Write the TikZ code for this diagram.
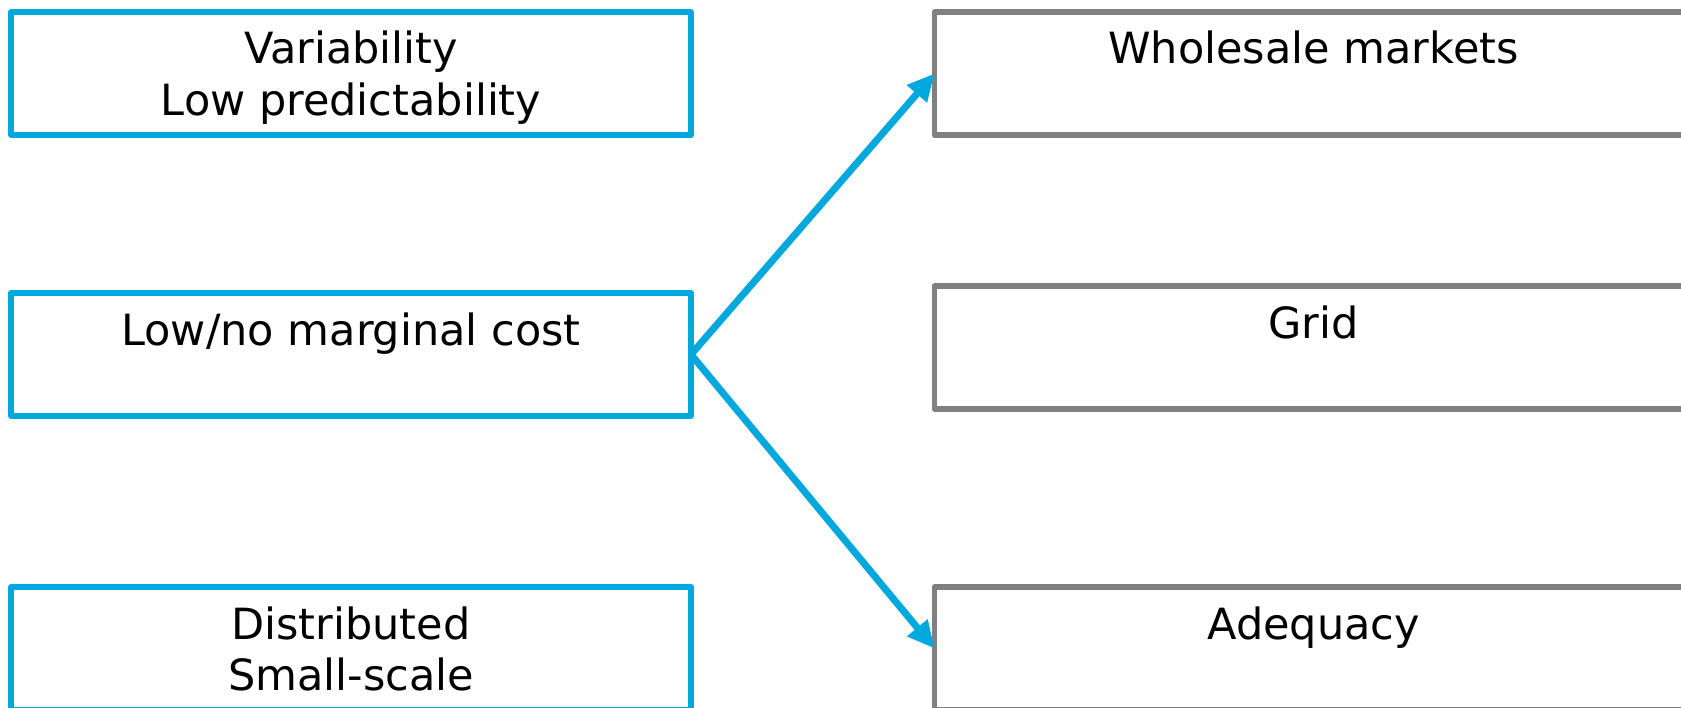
\documentclass[tikz,border=0pt]{standalone}
\usepackage{fontspec}
\setmainfont{DejaVu Sans}
\usetikzlibrary{arrows.meta}
\definecolor{cblue}{RGB}{0,168,222}
\definecolor{cgray}{RGB}{128,128,128}
\begin{document}
\begin{tikzpicture}[x=1bp,y=-1bp,
  box/.style={line width=5.5bp, line join=round, minimum height=123bp, anchor=north west, inner sep=0pt, outer sep=0pt},
  bluebox/.style={box, draw=cblue, minimum width=680bp},
  graybox/.style={box, draw=cgray, minimum width=758bp},
  lbl/.style={font=\fontsize{43bp}{51bp}\selectfont, align=center, anchor=base, inner sep=0pt},
  conn/.style={draw=cblue, line width=7bp, -{Triangle[length=27bp,width=25bp]}}]
\useasboundingbox (0,0) rectangle (1681,708);
% left boxes
\node[bluebox] (b1) at (11,12) {};
\node[bluebox] (b2) at (11,293) {};
\node[bluebox] (b3) at (11,587) {};
% right boxes
\node[graybox] (g1) at (934.5,12) {};
\node[graybox] (g2) at (934.5,286) {};
\node[graybox] (g3) at (934.5,587) {};
% labels (base anchor = baseline of last line)
\node[lbl] (t1) at ([yshift=-103bp]b1.north) {Variability\\Low predictability};
\node[lbl] (t2) at ([yshift=-52bp]b2.north) {Low/no marginal cost};
\node[lbl] (t3) at ([yshift=-103bp]b3.north) {Distributed\\Small-scale};
\node[lbl] (u1) at ([yshift=-52bp]g1.north) {Wholesale markets};
\node[lbl] (u2) at ([yshift=-52bp]g2.north) {Grid};
\node[lbl] (u3) at ([yshift=-52bp]g3.north) {Adequacy};
% connectors
\draw[conn] (b2.east) -- (g1.west);
\draw[conn] (b2.east) -- (g3.west);
\end{tikzpicture}
\end{document}
